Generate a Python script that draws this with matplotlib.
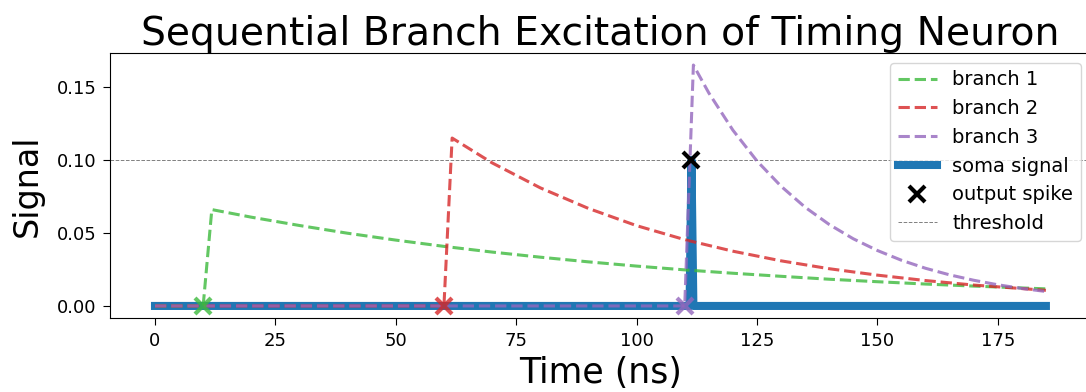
import numpy as np
import matplotlib
matplotlib.use('Agg')
import matplotlib.pyplot as plt

# branch spike onsets (ns)
spike_times = [10, 60, 110]

# branch 1 trace
t_b1 = [0, 10, 11.8, 20, 30, 40, 50, 60, 70, 80, 90, 100, 110, 120, 130, 140, 150, 160, 170, 185]
v_b1 = [0, 0, 0.066, 0.0608, 0.0551, 0.0498, 0.0451, 0.0408, 0.0369, 0.0334, 0.0302, 0.0273,
        0.0247, 0.0224, 0.0203, 0.0183, 0.0166, 0.0150, 0.0136, 0.0117]

# branch 2 trace
t_b2 = [0, 60, 61.7, 70, 80, 90, 100, 110, 120, 130, 140, 150, 160, 170, 185]
v_b2 = [0, 0, 0.115, 0.098, 0.0809, 0.0668, 0.0550, 0.0454, 0.0375, 0.0309, 0.0255, 0.0211,
        0.0174, 0.0143, 0.0107]

# branch 3 trace
t_b3 = [0, 110, 111.8, 115, 120, 125, 130, 135, 140, 145, 150, 155, 160, 165, 170, 175, 180, 185]
v_b3 = [0, 0, 0.165, 0.1459, 0.1204, 0.0993, 0.0820, 0.0676, 0.0558, 0.0460, 0.0380, 0.0313,
        0.0258, 0.0213, 0.0176, 0.0145, 0.0120, 0.0099]

# soma trace
t_soma = [0, 111.0, 111.4, 111.8, 185]
v_soma = [0, 0, 0.1, 0, 0]

out_spike_t = 111.4
threshold = 0.1

colors = ['#3cb93c', 'tab:red', 'tab:purple']

fig = plt.figure(figsize=(10.86, 3.92), dpi=100)
ax = fig.add_axes([0.1017, 0.1888, 0.9024, 0.676])

ax.plot(t_soma, v_soma, color='tab:blue', lw=5.8, label='soma signal', zorder=2)
branches = [(t_b1, v_b1), (t_b2, v_b2), (t_b3, v_b3)]
for i, (t, v) in enumerate(branches):
    ax.plot(t, v, '--', color=colors[i], alpha=0.8, lw=2.2, label=f'branch {i + 1}', zorder=3)
    ax.plot(spike_times[i], 0, 'x', color=colors[i], alpha=0.8, ms=11, mew=3, zorder=4)
ax.plot(out_spike_t, threshold, 'x', color='black', ms=11, mew=3, label='output spike', zorder=5)
ax.axhline(threshold, color='gray', ls='--', lw=0.7, label='threshold', zorder=1)

ax.set_title('Sequential Branch Excitation of Timing Neuron', fontsize=28.3)
ax.set_xlabel('Time (ns)', fontsize=25, labelpad=4.5)
ax.set_ylabel('Signal', fontsize=24, labelpad=9)
ax.tick_params(labelsize=13, length=5, pad=5)

h, l = ax.get_legend_handles_labels()
order = [l.index(k) for k in ['branch 1', 'branch 2', 'branch 3', 'soma signal', 'output spike', 'threshold']]
ax.legend([h[k] for k in order], [l[k] for k in order], loc='upper right', fontsize=14)

fig.savefig('out.png', dpi=100)
